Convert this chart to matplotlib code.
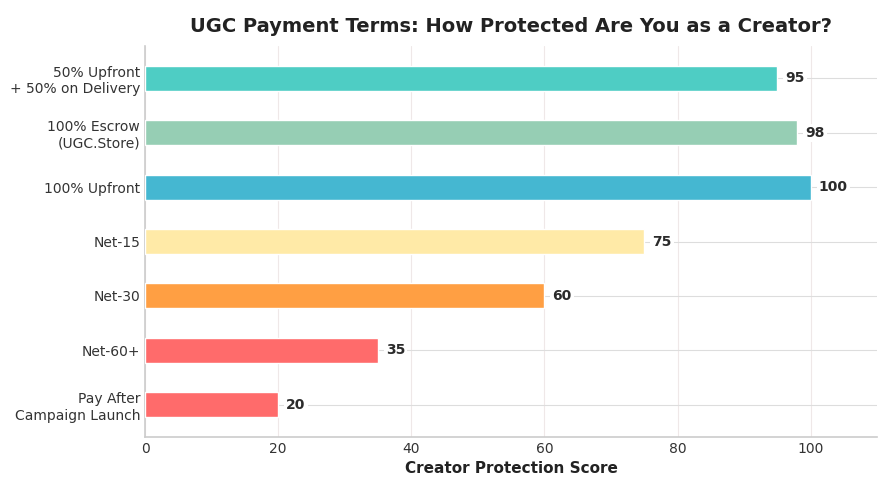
import matplotlib
matplotlib.use("Agg")
import matplotlib.pyplot as plt
import seaborn as sns

TERMS = [
    "50% Upfront\n+ 50% on Delivery",
    "100% Escrow\n(UGC.Store)",
    "100% Upfront",
    "Net-15",
    "Net-30",
    "Net-60+",
    "Pay After\nCampaign Launch",
]
SCORES = [95, 98, 100, 75, 60, 35, 20]
COLORS = ["#4ECDC4", "#96CEB4", "#45B7D1", "#FFEAA7", "#FF9F43", "#FF6B6B", "#FF6B6B"]

sns.set_style("whitegrid")
plt.rcParams["font.family"] = ["DejaVu Sans"]

fig, ax = plt.subplots(figsize=(8.87, 4.86), dpi=100)

ypos = list(range(len(TERMS)))[::-1]
ax.barh(ypos, SCORES, color=COLORS, height=0.46, edgecolor="white", linewidth=1, zorder=3)

for y, s in zip(ypos, SCORES):
    ax.text(s + 1.2, y, str(s), va="center", ha="left", fontsize=10, fontweight="bold",
            color="#2b2b2b", zorder=4,
            bbox=dict(boxstyle="square,pad=0.15", facecolor="white", edgecolor="none"))

ax.set_yticks(ypos)
ax.set_yticklabels(TERMS, fontsize=10, color="#333333")
ax.set_xlim(0, 110)
ax.set_ylim(-0.59, 6.59)
ax.set_xticks([0, 20, 40, 60, 80, 100])
ax.tick_params(axis="x", labelsize=10, colors="#333333", length=0)
ax.tick_params(axis="y", length=0, pad=3.5)

ax.grid(axis="y", color="#dddddd", linewidth=0.8, zorder=0)
ax.grid(axis="x", color="#efe8e8", linewidth=0.8, zorder=0)
ax.set_axisbelow(True)

for side in ["top", "right"]:
    ax.spines[side].set_visible(False)
for side in ["left", "bottom"]:
    ax.spines[side].set_color("#cccccc")
    ax.spines[side].set_linewidth(1.2)

ax.set_xlabel("Creator Protection Score", fontsize=11, fontweight="bold", color="#222222")
ax.set_title("UGC Payment Terms: How Protected Are You as a Creator?", fontsize=14,
             fontweight="bold", color="#222222", pad=10)

fig.subplots_adjust(left=0.1635, right=0.989, top=0.905, bottom=0.101)
fig.savefig("out.png", dpi=100)
